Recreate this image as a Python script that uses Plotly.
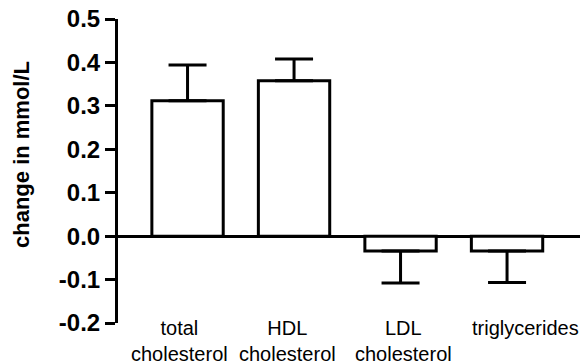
import plotly.graph_objects as go

categories = ["total<br>cholesterol", "HDL<br>cholesterol", "LDL<br>cholesterol", "triglycerides"]
values = [0.312, 0.358, -0.034, -0.034]
err_up = [0.082, 0.050, 0.0, 0.0]
err_down = [0.0, 0.0, 0.074, 0.073]
tick_vals = [-0.2, -0.1, 0.0, 0.1, 0.2, 0.3, 0.4, 0.5]
tick_text = ["-0.2", "-0.1", "0.0", "0.1", "0.2", "0.3", "0.4", "0.5"]
y_title = "change in mmol/L"

label_xshift = [-8, -7, 3, 18]

FONT = "Liberation Sans, Arial, sans-serif"
xs = list(range(len(categories)))

fig = go.Figure()
fig.add_trace(go.Bar(
    x=xs, y=values,
    marker=dict(color="white", line=dict(color="black", width=3)),
    error_y=dict(type="data", symmetric=False, array=err_up, arrayminus=err_down,
                 color="black", thickness=3, width=19),
    width=0.67,
))

for i, c in enumerate(categories):
    fig.add_annotation(x=xs[i], xref="x", y=0, yref="paper", yanchor="top",
                       text=c, showarrow=False, xshift=label_xshift[i], yshift=8,
                       font=dict(family=FONT, size=20, color="black"))

fig.add_annotation(x=-96/462, xref="paper", y=(323-155)/304, yref="paper",
                   text="<b>" + y_title + "</b>", textangle=-90, showarrow=False,
                   xanchor="center", yanchor="middle",
                   font=dict(family=FONT, size=22, color="black"))

fig.update_layout(
    width=581, height=364,
    margin=dict(l=118, r=1, t=19, b=41),
    plot_bgcolor="white", paper_bgcolor="white",
    showlegend=False,
    xaxis=dict(range=[-0.653, 3.685], showgrid=False, zeroline=False, showline=False,
               showticklabels=False, ticks=""),
    yaxis=dict(range=[-0.2, 0.5], tickvals=tick_vals, ticktext=tick_text,
               showgrid=False, showline=True, linecolor="black", linewidth=3,
               ticks="outside", ticklen=10, tickwidth=3, tickcolor="black",
               zeroline=True, zerolinecolor="black", zerolinewidth=3,
               tickfont=dict(family=FONT, size=24, color="black", weight="bold")),
)

fig.write_html("out.html")
